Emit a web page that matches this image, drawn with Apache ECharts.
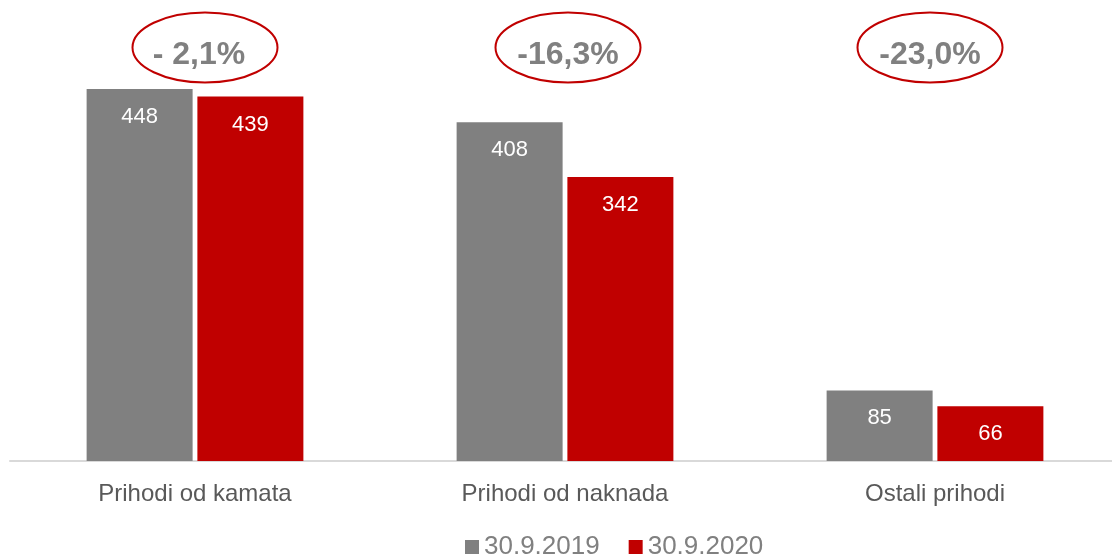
<!DOCTYPE html>
<html><head><meta charset="utf-8">
<script src="https://cdn.jsdelivr.net/npm/echarts@6/dist/echarts.min.js"></script>
<style>html,body{margin:0;padding:0;background:#fff}#c{width:1112px;height:557px}</style>
</head><body><div id="c"></div>
<script>
var categories = ['Prihodi od kamata', 'Prihodi od naknada', 'Ostali prihodi'];
var seriesNames = ['30.9.2019', '30.9.2020'];
var values2019 = [448, 408, 85];
var values2020 = [439, 342, 66];
var changes = ['- 2,1%', '-16,3%', '-23,0%'];

var chart = echarts.init(document.getElementById('c'));
var FONT = '"Liberation Sans", Arial, sans-serif';
var option = {
  animation: false,
  textStyle: { fontFamily: FONT },
  grid: { left: 10, right: -8, top: 45.8, bottom: 96, containLabel: false, outerBoundsMode: 'none' },
  legend: {
    left: 460, top: 529, itemWidth: 14, itemHeight: 14, itemGap: 29,
    icon: 'rect',
    textStyle: { fontSize: 26, color: '#808080', fontFamily: FONT },
    data: seriesNames
  },
  xAxis: {
    type: 'category', data: categories,
    axisLine: { lineStyle: { color: '#d9d9d9', width: 2 } },
    axisTick: { show: false },
    axisLabel: { fontSize: 24, color: '#595959', margin: 21, fontFamily: FONT }
  },
  yAxis: { type: 'value', min: 0, max: 500, show: false, splitLine: { show: false } },
  series: [
    {
      name: seriesNames[0], type: 'bar', data: values2019, barWidth: 106, barGap: '4.5%',
      itemStyle: { color: '#808080' },
      label: { show: true, position: 'insideTop', distance: 17, color: '#fff', fontSize: 22, fontFamily: FONT }
    },
    {
      name: seriesNames[1], type: 'bar', data: values2020, barWidth: 106,
      itemStyle: { color: '#C00000' },
      label: { show: true, position: 'insideTop', distance: 17, color: '#fff', fontSize: 22, fontFamily: FONT }
    }
  ]
};
chart.setOption(option);

var ellipseOffsets = [10, 3, -5];
var textOffsets = [4, 3, -5];
var g = [];
categories.forEach(function (c, i) {
  var x = chart.convertToPixel({ xAxisIndex: 0 }, c);
  g.push({
    type: 'ellipse', shape: { cx: x + ellipseOffsets[i], cy: 47.5, rx: 72.5, ry: 35 },
    style: { fill: 'none', stroke: '#C00000', lineWidth: 2 }, z: 10
  });
  g.push({
    type: 'text', x: x + textOffsets[i], y: 55,
    style: { text: changes[i], fill: '#808080', font: 'bold 32px ' + FONT, textAlign: 'center', textVerticalAlign: 'middle' }, z: 11
  });
});
chart.setOption({ graphic: g });
</script></body></html>
